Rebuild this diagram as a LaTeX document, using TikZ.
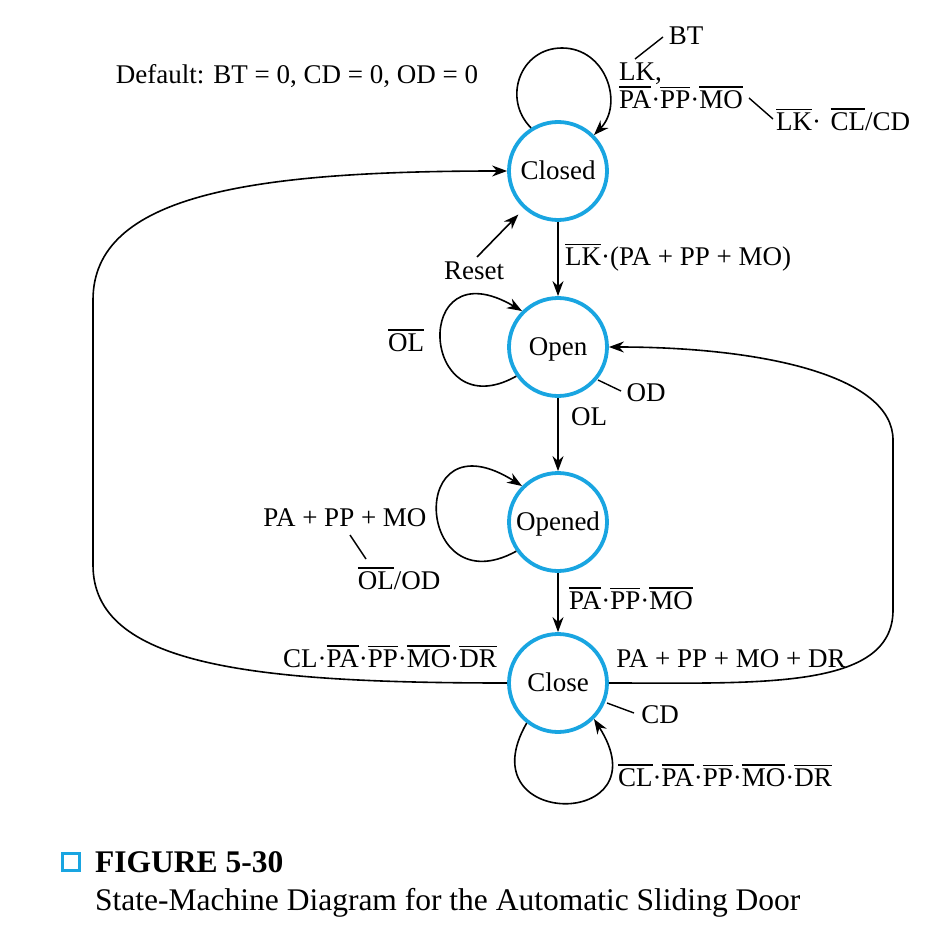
\documentclass[tikz,border=0pt]{standalone}
\usepackage{fontspec}
\setmainfont{Liberation Serif}
\usetikzlibrary{arrows.meta}
\definecolor{stcyan}{RGB}{25,165,225}
\newcommand\lblfont{\fontsize{27}{32}\selectfont}
\newcommand\capfont{\fontsize{31.5}{36}\selectfont}
\newcommand\ovl[1]{\setbox0\hbox{#1}\rlap{\raisebox{\dimexpr\ht0+3.2pt\relax}{\rule{\wd0}{1.5pt}}}\box0}
\begin{document}
\begin{tikzpicture}[x=1pt,y=-1pt,
  state/.style={circle,draw=stcyan,line width=3.8pt,minimum size=98pt,inner sep=0pt,font=\lblfont,text height=17.8pt,text depth=0pt},
  lbl/.style={inner sep=0pt,font=\lblfont,text height=17.8pt,text depth=0pt},
  conn/.style={line width=1.6pt,-{Stealth[length=15pt,width=11pt]}},
  lead/.style={line width=1.4pt},
  captxt/.style={anchor=west,inner sep=0pt,font=\capfont,text height=20.8pt,text depth=0pt}]
\useasboundingbox (0,0) rectangle (929,933);
% states
\node[state] (closed) at (558,171) {Closed};
\node[state] (open) at (558,347) {Open};
\node[state] (opened) at (558,522) {Opened};
\node[state] (close) at (558,683) {Close};
% straight transitions
\draw[conn] (closed) -- (open);
\draw[conn] (open) -- (opened);
\draw[conn] (opened) -- (close);
% self loops
\draw[conn] (closed.122) .. controls (502,99) and (520,48) .. (562,48) .. controls (606,48) and (624,104) .. (closed.45);
\draw[conn] (open.215) .. controls (420,430) and (410,245) .. (open.135);
\draw[conn] (opened.215) .. controls (415,607) and (405,412) .. (opened.135);
\draw[conn] (close.232) .. controls (465,830) and (665,830) .. (close.-45);
% big loops
\draw[conn] (close.west) .. controls (250,683) and (93,665) .. (93,565) -- (93,300) .. controls (93,195) and (250,171) .. (closed.west);
\draw[conn] (close.east) .. controls (760,683) and (893,690) .. (893,610) -- (893,440) .. controls (893,375) and (760,347) .. (open.east);
% reset
\node[lbl] (reset) at (474,271) {Reset};
\coordinate (rs) at (477,257);
\draw[conn,shorten >=8pt] (rs) -- (closed.228);
% labels
\node[lbl] (deflt) at (297,75) {Default: BT = 0, CD = 0, OD = 0};
\node[lbl] (bt) at (686,36) {BT};
\node[lbl,anchor=west] (lk) at (619,72) {LK,};
\node[lbl,anchor=west] (papp1) at (619,100) {\ovl{PA}·\ovl{PP}·\ovl{MO}};
\node[lbl,anchor=west] (lkcl) at (776,122) {\ovl{LK}·\hspace{0.35em}\ovl{CL}/CD};
\coordinate (l1a) at (635,59); \coordinate (l1b) at (663,37);
\draw[lead] (l1a) -- (l1b);
\coordinate (l2a) at (749,98); \coordinate (l2b) at (773,119);
\draw[lead] (l2a) -- (l2b);
\node[lbl,anchor=west] (lkpa) at (565,257) {\ovl{LK}·(PA + PP + MO)};
\node[lbl] (olbar) at (406,343) {\ovl{OL}};
\node[lbl] (od) at (646,393) {OD};
\coordinate (l3a) at (598,380); \coordinate (l3b) at (621,391);
\draw[lead] (l3a) -- (l3b);
\node[lbl] (ol) at (589,417) {OL};
\node[lbl] (papp2) at (345,518) {PA + PP + MO};
\coordinate (l4a) at (350,535); \coordinate (l4b) at (366,559);
\draw[lead] (l4a) -- (l4b);
\node[lbl] (olod) at (399,581) {\ovl{OL}/OD};
\node[lbl] (papp3) at (631,601) {\ovl{PA}·\ovl{PP}·\ovl{MO}};
\node[lbl] (clpa) at (390,659) {CL·\ovl{PA}·\ovl{PP}·\ovl{MO}·\ovl{DR}};
\node[lbl] (papp4) at (731,659) {PA + PP + MO + DR};
\coordinate (l5a) at (607,703); \coordinate (l5b) at (634,713);
\draw[lead] (l5a) -- (l5b);
\node[lbl] (cd) at (660,715) {CD};
\node[lbl] (clpa2) at (725,778) {\ovl{CL}·\ovl{PA}·\ovl{PP}·\ovl{MO}·\ovl{DR}};
% caption
\node[draw=stcyan,line width=2.5pt,minimum size=17pt,inner sep=0pt] (sq) at (71,862) {};
\node[captxt,font=\capfont\bfseries] (fig) at (95,862) {FIGURE 5-30};
\node[captxt] (cap) at (95,900) {State-Machine Diagram for the Automatic Sliding Door};
\end{tikzpicture}
\end{document}
